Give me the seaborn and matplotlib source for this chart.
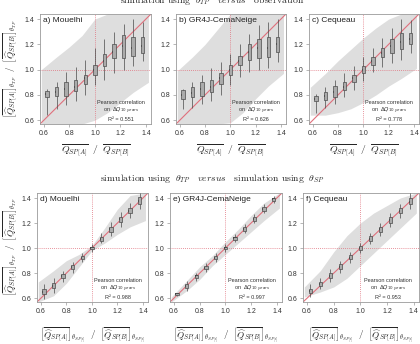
import matplotlib
matplotlib.use("Agg")
import matplotlib.pyplot as plt
import numpy as np
import pandas as pd
import seaborn as sns

# ---- data ----
BIN_CENTERS = [0.625, 0.700, 0.775, 0.850, 0.925, 1.000, 1.075, 1.150, 1.225, 1.300, 1.375]

# five-number summaries per bin: low whisker, q1, median, q3, high whisker
A_LO = [0.64, 0.69, 0.72, 0.75, 0.80, 0.88, 0.92, 0.97, 1.00, 1.03, 1.07]
A_Q1 = [0.785, 0.79, 0.79, 0.83, 0.89, 0.96, 1.03, 1.09, 1.09, 1.11, 1.13]
A_MD = [0.805, 0.825, 0.85, 0.865, 0.93, 1.00, 1.07, 1.14, 1.19, 1.17, 1.185]
A_Q3 = [0.83, 0.86, 0.90, 0.92, 0.96, 1.04, 1.12, 1.20, 1.27, 1.26, 1.26]
A_HI = [0.845, 0.90, 0.98, 1.02, 1.08, 1.17, 1.24, 1.30, 1.36, 1.40, 1.38]

B_LO = [0.69, 0.70, 0.73, 0.75, 0.80, 0.88, 0.94, 0.98, 1.00, 1.01, 1.06]
B_Q1 = [0.765, 0.78, 0.79, 0.82, 0.89, 0.96, 1.04, 1.08, 1.09, 1.10, 1.14]
B_MD = [0.80, 0.815, 0.845, 0.865, 0.93, 1.00, 1.07, 1.14, 1.17, 1.175, 1.20]
B_Q3 = [0.835, 0.86, 0.90, 0.92, 0.97, 1.04, 1.11, 1.20, 1.24, 1.26, 1.26]
B_HI = [0.85, 0.90, 0.96, 1.01, 1.06, 1.12, 1.20, 1.28, 1.35, 1.38, 1.40]

C_LO = [0.66, 0.70, 0.73, 0.78, 0.84, 0.91, 0.98, 1.02, 1.05, 1.08, 1.13]
C_Q1 = [0.75, 0.76, 0.78, 0.84, 0.90, 0.97, 1.04, 1.10, 1.13, 1.16, 1.20]
C_MD = [0.77, 0.79, 0.825, 0.865, 0.93, 1.00, 1.07, 1.135, 1.185, 1.22, 1.245]
C_Q3 = [0.79, 0.82, 0.87, 0.90, 0.96, 1.03, 1.10, 1.17, 1.24, 1.29, 1.29]
C_HI = [0.81, 0.86, 0.92, 0.97, 1.03, 1.10, 1.17, 1.25, 1.33, 1.40, 1.39]

D_LO = [0.59, 0.64, 0.73, 0.80, 0.89, 0.97, 1.04, 1.10, 1.17, 1.24, 1.31]
D_Q1 = [0.63, 0.68, 0.76, 0.83, 0.91, 0.99, 1.06, 1.13, 1.21, 1.28, 1.35]
D_MD = [0.65, 0.70, 0.775, 0.85, 0.925, 1.00, 1.075, 1.15, 1.235, 1.30, 1.38]
D_Q3 = [0.67, 0.72, 0.79, 0.865, 0.94, 1.01, 1.09, 1.17, 1.25, 1.32, 1.41]
D_HI = [0.71, 0.76, 0.82, 0.89, 0.96, 1.03, 1.12, 1.21, 1.29, 1.36, 1.44]

E_LO = [0.62, 0.66, 0.74, 0.81, 0.89, 0.97, 1.05, 1.12, 1.20, 1.28, 1.36]
E_Q1 = [0.625, 0.68, 0.76, 0.83, 0.91, 0.99, 1.065, 1.14, 1.22, 1.30, 1.38]
E_MD = [0.633, 0.695, 0.775, 0.845, 0.925, 1.00, 1.08, 1.155, 1.235, 1.31, 1.39]
E_Q3 = [0.64, 0.71, 0.785, 0.86, 0.94, 1.01, 1.09, 1.17, 1.25, 1.325, 1.40]
E_HI = [0.645, 0.74, 0.80, 0.88, 0.96, 1.03, 1.11, 1.19, 1.27, 1.35, 1.42]

F_LO = [0.61, 0.67, 0.73, 0.80, 0.88, 0.96, 1.03, 1.10, 1.17, 1.24, 1.31]
F_Q1 = [0.64, 0.70, 0.76, 0.83, 0.91, 0.985, 1.06, 1.13, 1.20, 1.28, 1.35]
F_MD = [0.66, 0.71, 0.78, 0.85, 0.925, 1.00, 1.075, 1.15, 1.225, 1.30, 1.37]
F_Q3 = [0.675, 0.73, 0.80, 0.87, 0.945, 1.015, 1.095, 1.17, 1.25, 1.32, 1.40]
F_HI = [0.71, 0.76, 0.83, 0.90, 0.97, 1.04, 1.12, 1.20, 1.28, 1.35, 1.44]

# envelope of the grey cloud of individual points
CLOUD_X = [0.58, 0.70, 0.80, 0.90, 1.00, 1.10, 1.20, 1.30, 1.42]
A_CLOUD_LO = [0.57, 0.57, 0.57, 0.57, 0.60, 0.66, 0.74, 0.82, 0.90]
A_CLOUD_HI = [1.00, 1.10, 1.18, 1.27, 1.40, 1.44, 1.44, 1.44, 1.44]
B_CLOUD_LO = [0.57, 0.57, 0.57, 0.57, 0.58, 0.66, 0.77, 0.87, 0.97]
B_CLOUD_HI = [0.99, 1.10, 1.20, 1.32, 1.44, 1.44, 1.44, 1.44, 1.44]
C_CLOUD_LO = [0.64, 0.64, 0.66, 0.69, 0.74, 0.80, 0.87, 0.93, 1.01]
C_CLOUD_HI = [0.86, 0.97, 1.07, 1.16, 1.25, 1.33, 1.40, 1.44, 1.44]
D_CLOUD_LO = [0.57, 0.62, 0.72, 0.85, 0.98, 1.04, 1.11, 1.17, 1.22]
D_CLOUD_HI = [0.73, 0.82, 0.90, 0.95, 1.02, 1.16, 1.31, 1.42, 1.44]
E_CLOUD_LO = [0.57, 0.66, 0.75, 0.86, 0.95, 1.04, 1.13, 1.22, 1.32]
E_CLOUD_HI = [0.61, 0.74, 0.85, 0.94, 1.05, 1.15, 1.26, 1.36, 1.44]
F_CLOUD_LO = [0.61, 0.65, 0.69, 0.76, 0.86, 0.96, 1.06, 1.16, 1.28]
F_CLOUD_HI = [0.69, 0.82, 0.97, 1.10, 1.20, 1.28, 1.34, 1.40, 1.44]

PANEL_TITLES = ["a) Mouelhi", "b) GR4J-CemaNeige", "c) Cequeau",
                "d) Mouelhi", "e) GR4J-CemaNeige", "f) Cequeau"]
R2_VALUES = [0.551, 0.626, 0.778, 0.988, 0.997, 0.953]
TICKS = [0.6, 0.8, 1.0, 1.2, 1.4]

BOXES = [(A_LO, A_Q1, A_MD, A_Q3, A_HI), (B_LO, B_Q1, B_MD, B_Q3, B_HI),
         (C_LO, C_Q1, C_MD, C_Q3, C_HI), (D_LO, D_Q1, D_MD, D_Q3, D_HI),
         (E_LO, E_Q1, E_MD, E_Q3, E_HI), (F_LO, F_Q1, F_MD, F_Q3, F_HI)]
CLOUDS = [(A_CLOUD_LO, A_CLOUD_HI), (B_CLOUD_LO, B_CLOUD_HI), (C_CLOUD_LO, C_CLOUD_HI),
          (D_CLOUD_LO, D_CLOUD_HI), (E_CLOUD_LO, E_CLOUD_HI), (F_CLOUD_LO, F_CLOUD_HI)]

# ---- style ----
sns.set_theme(style="ticks")
plt.rcParams.update({
    "font.family": ["Liberation Sans", "DejaVu Sans"],
    "mathtext.fontset": "cm",
    "axes.edgecolor": "#9a9a9a",
    "axes.linewidth": 0.6,
    "xtick.color": "#9a9a9a",
    "ytick.color": "#9a9a9a",
    "xtick.labelcolor": "#333333",
    "ytick.labelcolor": "#333333",
    "xtick.major.size": 2,
    "ytick.major.size": 2,
    "xtick.major.width": 0.5,
    "ytick.major.width": 0.5,
    "xtick.labelsize": 5,
    "ytick.labelsize": 5,
    "xtick.major.pad": 2,
    "ytick.major.pad": 2,
})

LIM = (0.57, 1.44)
CLOUD_COLOR = "#dedede"
RED = "#e0707c"

fig = plt.figure(figsize=(4.2, 3.44), dpi=100)
W, H = 420.0, 344.0
# axes boxes in pixels: left, top, right, bottom
PIX = [(40, 14, 151, 124), (176, 14, 286, 124), (309, 14, 419, 124),
       (37, 193, 148, 302), (170, 193, 282, 302), (303, 193, 419, 302)]

axes = []
for left, top, right, bottom in PIX:
    axes.append(fig.add_axes([left / W, 1 - bottom / H, (right - left) / W, (bottom - top) / H]))

for i, ax in enumerate(axes):
    lo_c, hi_c = CLOUDS[i]
    ax.fill_between(CLOUD_X, lo_c, hi_c, color=CLOUD_COLOR, linewidth=0, zorder=0)

    ax.axline((1, 1), slope=1, color=RED, lw=0.8, zorder=1)
    ax.axhline(1.0, color=RED, lw=0.6, ls=(0, (1, 1.5)), zorder=1)
    ax.axvline(1.0, color=RED, lw=0.6, ls=(0, (1, 1.5)), zorder=1)

    rows = []
    for j, xc in enumerate(BIN_CENTERS):
        for series in BOXES[i]:
            rows.append({"ratio": xc, "value": series[j]})
    df = pd.DataFrame(rows)
    sns.boxplot(data=df, x="ratio", y="value", native_scale=True, ax=ax,
                width=0.36, whis=(0, 100), showcaps=False, showfliers=False,
                color="#ababab", linecolor="#4a4a4a", linewidth=0.5,
                medianprops=dict(color="black", linewidth=1.3),
                boxprops=dict(zorder=3), whiskerprops=dict(zorder=3))

    ax.set_xlim(LIM)
    ax.set_ylim(LIM)
    ax.set_xticks(TICKS)
    ax.set_yticks(TICKS)
    ax.set_xticklabels([f"{t:.1f}" for t in TICKS])
    ax.set_yticklabels([f"{t:.1f}" for t in TICKS])
    ax.set_xlabel("")
    ax.set_ylabel("")
    for s in ax.spines.values():
        s.set_visible(True)

    ax.text(0.03, 0.97, PANEL_TITLES[i], transform=ax.transAxes,
            ha="left", va="top", fontsize=6, color="#222222")
    note = ("Pearson correlation\n" + r"on  $\Delta Q_{10\ years}$" + "\n"
            + f"R² = {R2_VALUES[i]:.3f}")
    ax.text(0.73, 0.02, note, transform=ax.transAxes, ha="center", va="bottom",
            multialignment="center", fontsize=4, linespacing=1.15,
            color="#333333", math_fontfamily="dejavusans")

# labels
top_xlab = r"$\overline{Q_{SP[A]}}\ \ /\ \ \overline{Q_{SP[B]}}$"
bot_xlab = (r"$\left[\overline{\widehat{Q}_{SP[A]}}\right]_{\theta_{SP[i]}}\ \ /\ \ "
            r"\left[\overline{\widehat{Q}_{SP[B]}}\right]_{\theta_{SP[i]}}$")
ylab = (r"$\left[\overline{\widehat{Q}_{SP[A]}}\right]_{\theta_{TP}}\ \ /\ \ "
        r"\left[\overline{\widehat{Q}_{SP[B]}}\right]_{\theta_{TP}}$")

for ax in axes[:3]:
    ax.set_xlabel(top_xlab, fontsize=7, labelpad=4)
for ax in axes[3:]:
    ax.set_xlabel(bot_xlab, fontsize=6.5, labelpad=8)

fig.text(11 / W, 1 - 69 / H, ylab, rotation=90, ha="center", va="center", fontsize=6.5)
fig.text(11 / W, 1 - 247 / H, ylab, rotation=90, ha="center", va="center", fontsize=6.5)

fig.text(0.505, 0.99, r"$\mathrm{simulation\ using}\ \ \theta_{TP}\quad \mathit{versus}\quad \mathrm{observation}$",
         ha="center", va="baseline", fontsize=7)
fig.text(0.505, 0.474, r"$\mathrm{simulation\ using}\ \ \theta_{TP}\quad \mathit{versus}\quad \mathrm{simulation\ using}\ \ \theta_{SP}$",
         ha="center", va="baseline", fontsize=7)

fig.savefig("out.png", dpi=100)
